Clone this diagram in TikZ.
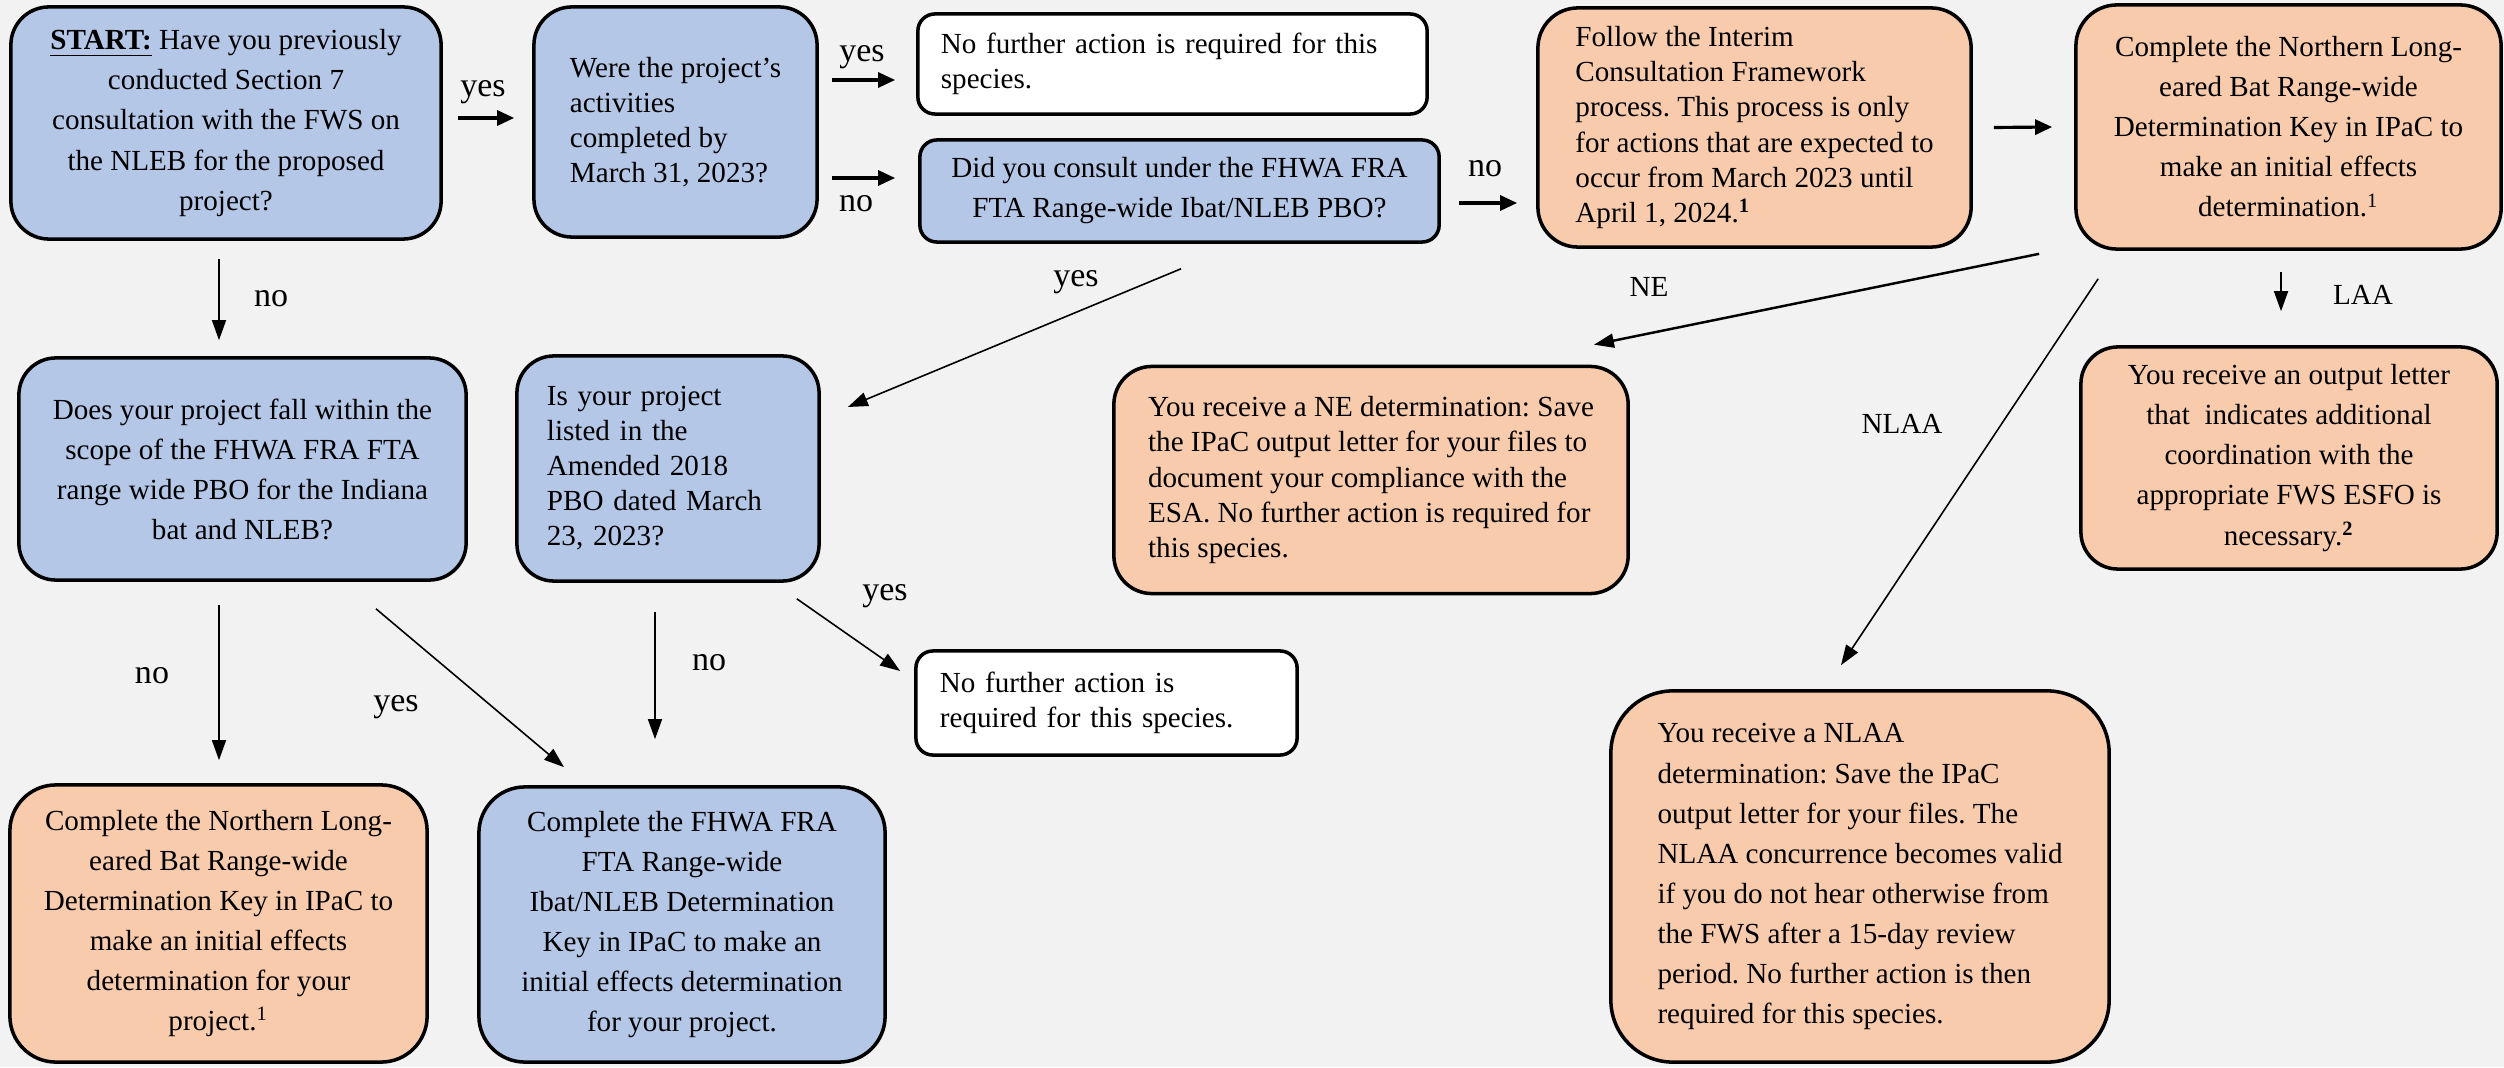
\documentclass[tikz,border=0pt]{standalone}
\usepackage{fontspec}
\setmainfont{Liberation Serif}
\usetikzlibrary{arrows.meta,calc}
\frenchspacing

\definecolor{qblue}{HTML}{B4C7E7}
\definecolor{qorange}{HTML}{F8CBAD}
\definecolor{qgray}{HTML}{F2F2F2}

\begin{document}
\begin{tikzpicture}[x=0.01cm,y=-0.01cm,
	box/.style={draw,line width=1pt,inner sep=0pt,font=\fontsize{8.28}{9.96}\selectfont},
	loose/.style={font=\fontsize{8.28}{11.38}\selectfont},
	qbox/.style={box,fill=qblue},
	obox/.style={box,fill=qorange},
	wbox/.style={box,fill=white},
	lbl/.style={anchor=base,font=\fontsize{9.67}{11}\selectfont},
	tag/.style={anchor=base,font=\fontsize{8.28}{10}\selectfont},
	arr/.style={-{Triangle[length=0.17cm,width=0.15cm]},line width=0.9pt},
	longarr/.style={-{Triangle[length=0.2cm,width=0.14cm]},line width=0.45pt}]
	
	\fill[qgray] (0,0) rectangle (2504,1067);
	\useasboundingbox (0,0) rectangle (2504,1067);
	
	% first row
	\node[qbox,loose,align=center,minimum width=4.30cm,minimum height=2.32cm,rounded corners=0.38cm] (start) at (226,123)
		{\underline{\textbf{START:}} Have you previously\\conducted Section 7\\consultation with the FWS on\\the NLEB for the proposed\\project?};
	\node[qbox,align=left,minimum width=2.83cm,minimum height=2.30cm,rounded corners=0.38cm] (were) at (675.5,122)
		{Were the project’s\\activities\\completed by\\March 31, 2023?};
	\node[wbox,align=left,text width=4.63cm,minimum width=5.09cm,minimum height=1.00cm,rounded corners=0.17cm] (done1) at (1172.5,64)
		{No further action is required for this\\species.};
	\node[qbox,loose,align=center,minimum width=5.19cm,minimum height=1.02cm,rounded corners=0.17cm] (consult) at (1179.5,191)
		{Did you consult under the FHWA FRA\\FTA Range-wide Ibat/NLEB PBO?};
	\node[obox,align=left,minimum width=4.33cm,minimum height=2.39cm,rounded corners=0.40cm] (interim) at (1754.5,127.5)
		{Follow the Interim\\Consultation Framework\\process. This process is only\\for actions that are expected to\\occur from March 2023 until\\April 1, 2024.\textsuperscript{\textbf{1}}};
	\node[obox,loose,align=center,minimum width=4.25cm,minimum height=2.44cm,rounded corners=0.41cm] (keyA) at (2288.5,127)
		{Complete the Northern Long-\\eared Bat Range-wide\\Determination Key in IPaC to\\make an initial effects\\determination.\textsuperscript{1}};
	
	% second row
	\node[qbox,loose,align=center,minimum width=4.47cm,minimum height=2.22cm,rounded corners=0.37cm] (scope) at (242.5,469)
		{Does your project fall within the\\scope of the FHWA FRA FTA\\range wide PBO for the Indiana\\bat and NLEB?};
	\node[qbox,align=left,text width=2.42cm,minimum width=3.02cm,minimum height=2.25cm,rounded corners=0.37cm] (listed) at (668,468.5)
		{Is your project\\listed in the\\Amended 2018\\PBO dated March\\23, 2023?};
	\node[obox,align=left,minimum width=5.14cm,minimum height=2.27cm,rounded corners=0.38cm] (ne) at (1371,480)
		{You receive a NE determination: Save\\the IPaC output letter for your files to\\document your compliance with the\\ESA. No further action is required for\\this species.};
	\node[obox,loose,align=center,minimum width=4.16cm,minimum height=2.22cm,rounded corners=0.37cm] (laa) at (2289,458)
		{You receive an output letter\\that\ \ indicates additional\\coordination with the\\appropriate FWS ESFO is\\necessary.\textsuperscript{\textbf{2}}};
	\node[wbox,align=left,text width=3.33cm,minimum width=3.81cm,minimum height=1.04cm,rounded corners=0.17cm] (done2) at (1106.5,703)
		{No further action is\\required for this species.};
	
	% last row
	\node[obox,loose,align=center,minimum width=4.17cm,minimum height=2.77cm,rounded corners=0.46cm] (keyB) at (218.5,923.5)
		{Complete the Northern Long-\\eared Bat Range-wide\\Determination Key in IPaC to\\make an initial effects\\determination for your\\project.\textsuperscript{1}};
	\node[qbox,loose,align=center,minimum width=4.06cm,minimum height=2.75cm,rounded corners=0.46cm] (keyC) at (682,924.5)
		{Complete the FHWA FRA\\FTA Range-wide\\Ibat/NLEB Determination\\Key in IPaC to make an\\initial effects determination\\for your project.};
	\node[obox,loose,align=left,minimum width=4.98cm,minimum height=3.71cm,rounded corners=0.62cm] (nlaa) at (1860,876.5)
		{You receive a NLAA\\determination: Save the IPaC\\output letter for your files. The\\NLAA concurrence becomes valid\\if you do not hear otherwise from\\the FWS after a 15-day review\\period. No further action is then\\required for this species.};
	
	% short arrows
	\draw[arr] ($(start.east)+(15,-5)$) -- ($(were.west)+(-18,-4)$);
	\draw[arr] ($(were.east)+(13,-42)$) -- ($(done1.west)+(-21,16)$);
	\draw[arr] ($(were.east)+(13,56)$) -- ($(consult.west)+(-23,-13)$);
	\draw[arr] ($(consult.east)+(18,12)$) -- ($(interim.west)+(-19,75.5)$);
	\draw[arr] ($(interim.east)+(21,0)$) -- ($(keyA.west)+(-22,0)$);
	
	% long arrows
	\draw[longarr] ($(start.south)+(-7,18)$) -- ($(scope.north)+(-23.5,-16)$);
	\draw[longarr] ($(consult.south)+(1.5,25)$) -- ($(listed.east)+(27,-61.5)$);
	\draw[longarr,line width=0.7pt] ($(keyA.south west)+(-35,3)$) -- ($(ne.north east)+(-36,-20)$);
	\draw[longarr] ($(keyA.south)+(-7.5,21)$) -- ($(laa.north)+(-8,-34)$);
	\draw[longarr] ($(keyA.south west)+(24,28)$) -- ($(nlaa.north)+(-19,-24)$);
	\draw[longarr] ($(scope.south)+(-23.5,23)$) -- ($(keyB.north)+(0.5,-23)$);
	\draw[longarr] ($(scope.south)+(133.5,27)$) -- ($(keyC.north)+(-118,-18)$);
	\draw[longarr] ($(listed.south)+(-13,29)$) -- ($(keyC.north)+(-27,-46)$);
	\draw[longarr] ($(listed.south east)+(-24,16)$) -- ($(done2.west)+(-14,-32)$);
	
	% answers
	\begin{scope}[every node/.style={lbl}]
		\node (yesA) at (483,97) {yes};
		\node (yesB) at (862,62) {yes};
		\node (noC) at (856,212) {no};
		\node (noD) at (1485,177) {no};
		\node (noF) at (271,307) {no};
		\node (yesG) at (1076,287) {yes};
		\node (noK) at (152,683) {no};
		\node (yesL) at (396,711) {yes};
		\node (noM) at (709,670) {no};
		\node (yesN) at (885,600) {yes};
	\end{scope}
	\node[tag] (tNE) at (1649,297) {NE};
	\node[tag] (tLAA) at (2363,305) {LAA};
	\node[tag] (tNLAA) at (1902,433) {NLAA};
\end{tikzpicture}
\end{document}
